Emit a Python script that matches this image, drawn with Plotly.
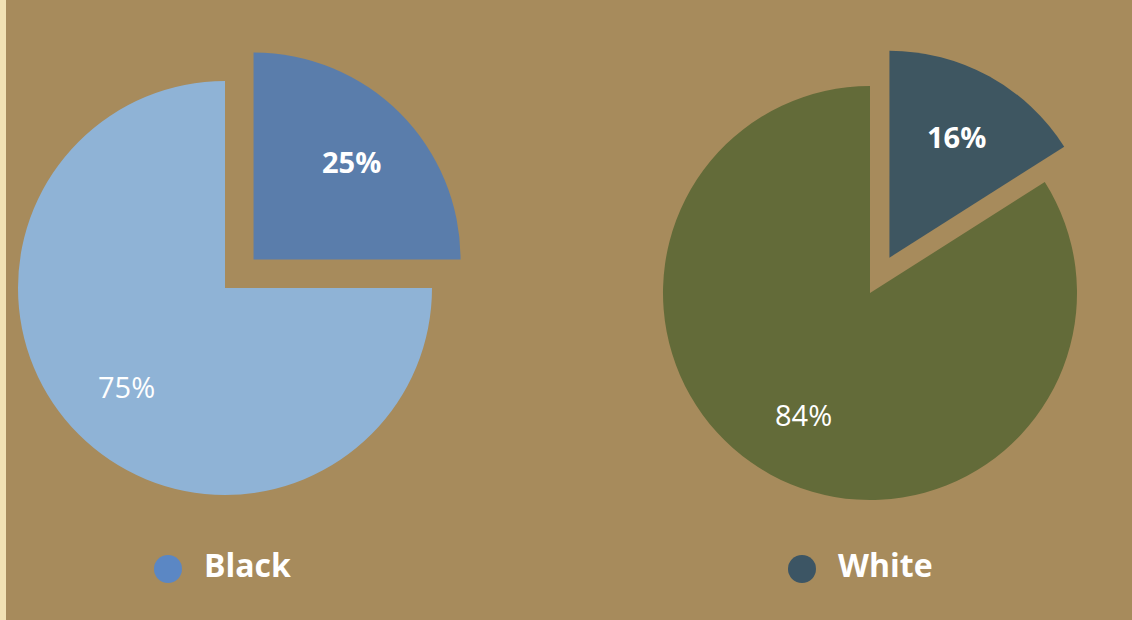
import math
import plotly.graph_objects as go

# ---------------- data ----------------
categories = ["Black", "White"]
black_values = [25, 75]      # [highlighted share, remainder]
white_values = [16, 84]
legend_labels = ["Black", "White"]

# ---------------- style / layout ----------------
W, H = 1132, 620
BG = "#A78B5C"
PULL = 0.195
LABEL_R = 0.67
pie_specs = {
    "Black": dict(cx=225, cy=288, r=207, main="#8FB3D6", accent="#5A7DAB"),
    "White": dict(cx=870, cy=293, r=207, main="#636B39", accent="#3E5661"),
}
legend_specs = {
    "Black": dict(x=168, y=569, color="#5B87C4"),
    "White": dict(x=802, y=569, color="#3C5564"),
}
LEGEND_TEXT_GAP = 36
FONT = "Open Sans, Lato, sans-serif"
TRANSPARENT = "rgba(0,0,0,0)"


def domain(cx, cy, r):
    return dict(x=[(cx - r) / W, (cx + r) / W],
                y=[1 - (cy + r) / H, 1 - (cy - r) / H])


fig = go.Figure()
annotations = []

for cat, values in zip(categories, [black_values, white_values]):
    s = pie_specs[cat]
    total = sum(values)
    texts = [f"{v}%" for v in values]
    # main (remaining) slice, not pulled
    fig.add_trace(go.Pie(
        values=values, labels=[f"{cat} a", f"{cat} b"], sort=False,
        direction="clockwise", rotation=0,
        marker=dict(colors=[TRANSPARENT, s["main"]], line=dict(width=0)),
        textinfo="none",
        domain=domain(s["cx"], s["cy"], s["r"]),
        hoverinfo="skip", showlegend=False,
    ))
    # highlighted slice, pulled out along its mid-angle
    mid0 = 2 * math.pi * (values[0] / 2) / total
    off = PULL * s["r"]
    pcx = s["cx"] + off * math.sin(mid0)
    pcy = s["cy"] - off * math.cos(mid0)
    fig.add_trace(go.Pie(
        values=values, labels=[f"{cat} a", f"{cat} b"], sort=False,
        direction="clockwise", rotation=0,
        marker=dict(colors=[s["accent"], TRANSPARENT], line=dict(width=0)),
        textinfo="none",
        domain=domain(pcx, pcy, s["r"]),
        hoverinfo="skip", showlegend=False,
    ))
    # percentage labels along each slice's mid-angle
    mid1 = 2 * math.pi * (values[0] + values[1] / 2) / total
    for (cx, cy), ang, txt, wt in [((pcx, pcy), mid0, texts[0], 700),
                                   ((s["cx"], s["cy"]), mid1, texts[1], 500)]:
        lx = cx + LABEL_R * s["r"] * math.sin(ang)
        ly = cy - LABEL_R * s["r"] * math.cos(ang)
        annotations.append(dict(
            x=lx / W, y=1 - ly / H, xref="paper", yref="paper",
            text=txt, showarrow=False, xanchor="center", yanchor="middle",
            font=dict(family=FONT, size=29, color="white", weight=wt),
        ))

# legend drawn as markers + text
fig.add_trace(go.Scatter(
    x=[legend_specs[c]["x"] for c in legend_labels],
    y=[legend_specs[c]["y"] for c in legend_labels],
    mode="markers",
    marker=dict(size=28, color=[legend_specs[c]["color"] for c in legend_labels]),
    hoverinfo="skip", showlegend=False, cliponaxis=False,
))
fig.add_trace(go.Scatter(
    x=[legend_specs[c]["x"] + LEGEND_TEXT_GAP for c in legend_labels],
    y=[legend_specs[c]["y"] for c in legend_labels],
    mode="text",
    text=legend_labels,
    textposition="middle right",
    textfont=dict(family=FONT, size=32, color="white", weight=700),
    hoverinfo="skip", showlegend=False, cliponaxis=False,
))

fig.update_layout(
    width=W, height=H,
    margin=dict(l=0, r=0, t=0, b=0),
    paper_bgcolor=BG, plot_bgcolor=BG,
    xaxis=dict(range=[0, W], visible=False, fixedrange=True),
    yaxis=dict(range=[H, 0], visible=False, fixedrange=True),
    annotations=annotations,
    shapes=[dict(type="rect", xref="paper", yref="paper",
                 x0=0, x1=6 / W, y0=0, y1=1,
                 fillcolor="#F1E1B3", line=dict(width=0), layer="below")],
)

fig.write_html("out.html")
